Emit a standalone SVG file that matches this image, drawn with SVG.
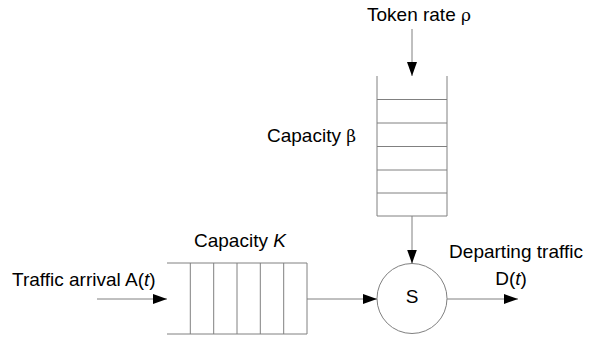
<svg xmlns="http://www.w3.org/2000/svg" width="589" height="338" viewBox="0 0 589 338">
<style>
.ln{stroke:#808080;stroke-width:1;fill:none}
.ar{stroke:#808080;stroke-width:1;fill:none;marker-end:url(#ah)}
text{font-family:"Liberation Sans",Arial,sans-serif;font-size:19px;fill:#000}
</style>
<defs>
<marker id="ah" markerWidth="14" markerHeight="10" refX="14" refY="5" orient="auto" markerUnits="userSpaceOnUse">
<path d="M0,0 L14,5 L0,10 Z" fill="#000"/>
</marker>
</defs>
<rect width="589" height="338" fill="#fff"/>
<g id="bucket">
<path class="ln" d="M377,76 V216 H447 V76 M377,99.5 H447 M377,123 H447 M377,146.5 H447 M377,170 H447 M377,193 H447"/>
<text x="267" y="142">Capacity <tspan font-family="'DejaVu Serif',serif" font-size="17">β</tspan></text>
</g>
<g id="queue">
<path class="ln" d="M167,263 H307 V334 H167 M190.3,263 V334 M213.7,263 V334 M237,263 V334 M260.3,263 V334 M283.7,263 V334"/>
<text x="194" y="247">Capacity <tspan font-style="italic">K</tspan></text>
</g>
<g id="server">
<circle cx="412" cy="298.5" r="35" class="ln"/>
<text x="412" y="303" text-anchor="middle">S</text>
</g>
<g id="labels">
<text x="367" y="21">Token rate <tspan font-family="'DejaVu Serif',serif" font-size="17">ρ</tspan></text>
<text x="12" y="286">Traffic arrival A(<tspan font-style="italic">t</tspan>)</text>
<text x="516" y="258" text-anchor="middle">Departing traffic</text>
<text x="511" y="285" text-anchor="middle">D(<tspan font-style="italic">t</tspan>)</text>
</g>
<g id="connectors">
<line class="ar" x1="412" y1="29" x2="412" y2="76"/>
<line class="ar" x1="412" y1="216" x2="412" y2="263.5"/>
<line class="ar" x1="97" y1="299" x2="167" y2="299"/>
<line class="ar" x1="307" y1="299" x2="377" y2="299"/>
<line class="ar" x1="447" y1="299" x2="518" y2="299"/>
</g>
</svg>
